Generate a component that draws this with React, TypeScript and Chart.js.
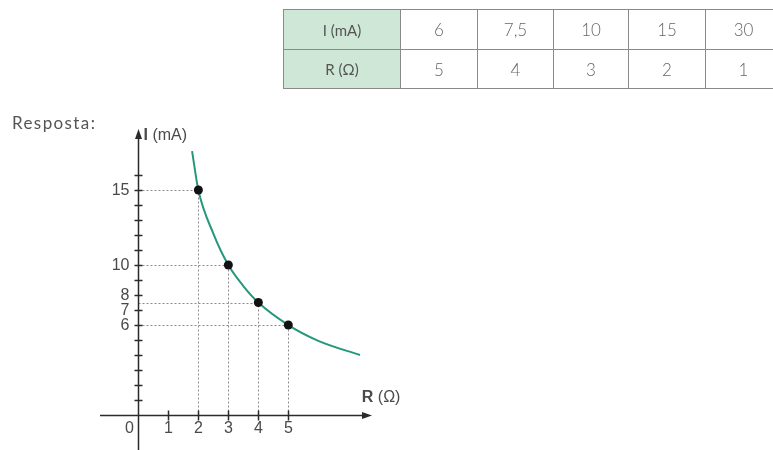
import React, { useEffect, useRef } from "react";
import { Chart, registerables } from "chart.js";

Chart.register(...registerables);

// Measured pairs: current I (mA) against resistance R (Ω)
const tableI = [6, 7.5, 10, 15, 30];
const tableR = [5, 4, 3, 2, 1];
const tableILabels = ["6", "7,5", "10", "15", "30"];
const tableRLabels = ["5", "4", "3", "2", "1"];

// Points along the drawn hyperbola I = k / R
const curveR = [1.79, 2, 2.5, 3, 3.5, 4, 5, 6, 7.39];
const curveI = [17.6, 15, 12.1, 10, 8.6, 7.5, 6, 4.95, 4.0];

// Axis ticks
const yTickValues = [1, 2, 3, 4, 5, 6, 7, 8, 9, 10, 11, 12, 13, 14, 15, 16];
const yTickLabels = [6, 7, 8, 10, 15];
const xTickValues = [1, 2, 3, 4, 5];

const AXIS_COLOR = "#2b2b2b";
const LABEL_COLOR = "#4a4a4a";
const LABEL_FONT = "16px 'Liberation Sans', Arial, sans-serif";
const BOLD_FONT = "bold 16px 'Liberation Sans', Arial, sans-serif";

const crossAxesPlugin = {
  id: "crossAxes",
  beforeDatasetsDraw(chart: any) {
    const { ctx, chartArea } = chart;
    const x = chart.scales.x;
    const y = chart.scales.y;
    const x0 = Math.round(x.getPixelForValue(0)) + 0.5;
    const y0 = Math.round(y.getPixelForValue(0)) + 0.5;

    ctx.save();

    // dotted guides from each visible point to both axes
    ctx.strokeStyle = "#8a8a8a";
    ctx.lineWidth = 1;
    ctx.setLineDash([2, 2]);
    tableR.forEach((r, i) => {
      const v = tableI[i];
      if (v > y.max) return;
      const px = Math.round(x.getPixelForValue(r)) + 0.5;
      const py = Math.round(y.getPixelForValue(v)) + 0.5;
      ctx.beginPath();
      ctx.moveTo(px, y0);
      ctx.lineTo(px, py);
      ctx.moveTo(x0, py);
      ctx.lineTo(px, py);
      ctx.stroke();
    });
    ctx.setLineDash([]);

    // axis lines
    ctx.strokeStyle = AXIS_COLOR;
    ctx.fillStyle = AXIS_COLOR;
    ctx.lineWidth = 1.5;
    const xEnd = chartArea.right;
    const yTop = chartArea.top;
    ctx.beginPath();
    ctx.moveTo(chartArea.left, y0);
    ctx.lineTo(xEnd - 6, y0);
    ctx.moveTo(x0, chartArea.bottom);
    ctx.lineTo(x0, yTop + 6);
    ctx.stroke();

    // arrow heads
    ctx.beginPath();
    ctx.moveTo(xEnd, y0);
    ctx.lineTo(xEnd - 10, y0 - 3.5);
    ctx.lineTo(xEnd - 10, y0 + 3.5);
    ctx.closePath();
    ctx.fill();
    ctx.beginPath();
    ctx.moveTo(x0, yTop);
    ctx.lineTo(x0 - 3.5, yTop + 10);
    ctx.lineTo(x0 + 3.5, yTop + 10);
    ctx.closePath();
    ctx.fill();

    // tick marks crossing the axes
    ctx.lineWidth = 1.5;
    ctx.beginPath();
    yTickValues.forEach((v) => {
      const py = Math.round(y.getPixelForValue(v)) + 0.5;
      ctx.moveTo(x0 - 4, py);
      ctx.lineTo(x0 + 4, py);
    });
    xTickValues.forEach((v) => {
      const px = Math.round(x.getPixelForValue(v)) + 0.5;
      ctx.moveTo(px, y0 - 5);
      ctx.lineTo(px, y0 + 5);
    });
    ctx.stroke();

    // tick labels
    ctx.fillStyle = LABEL_COLOR;
    ctx.font = LABEL_FONT;
    ctx.textBaseline = "middle";
    ctx.textAlign = "right";
    yTickLabels.forEach((v) => {
      ctx.fillText(String(v), x0 - 9, y.getPixelForValue(v) + 1);
    });
    ctx.textAlign = "center";
    xTickValues.forEach((v) => {
      ctx.fillText(String(v), x.getPixelForValue(v), y0 + 13);
    });
    ctx.fillText("0", x0 - 9, y0 + 13);

    // axis titles
    ctx.textAlign = "left";
    const iy = yTop + 7;
    ctx.font = BOLD_FONT;
    ctx.fillText("I", x0 + 5, iy);
    let w = ctx.measureText("I ").width;
    ctx.font = LABEL_FONT;
    ctx.fillText("(mA)", x0 + 5 + w, iy);

    const rx = x.getPixelForValue(7.45);
    const ry = y0 - 18;
    ctx.font = BOLD_FONT;
    ctx.fillText("R", rx, ry);
    w = ctx.measureText("R ").width;
    ctx.font = LABEL_FONT;
    ctx.fillText("(Ω)", rx + w, ry);

    ctx.restore();
  },
};

function IRChart() {
  const canvasRef = useRef<HTMLCanvasElement | null>(null);

  useEffect(() => {
    const canvas = canvasRef.current;
    if (!canvas) return;
    const chart = new Chart(canvas, {
      type: "scatter",
      data: {
        datasets: [
          {
            label: "I(R)",
            data: tableR.map((r, i) => ({ x: r, y: tableI[i] })),
            showLine: false,
            pointRadius: 4.5,
            pointHoverRadius: 4.5,
            pointBackgroundColor: "#111111",
            pointBorderColor: "#111111",
            pointBorderWidth: 0,
            order: 0,
          },
          {
            label: "curva",
            data: curveR.map((r, i) => ({ x: r, y: curveI[i] })),
            showLine: true,
            borderColor: "#25977c",
            borderWidth: 2,
            pointRadius: 0,
            cubicInterpolationMode: "monotone",
            order: 1,
          },
        ],
      },
      options: {
        responsive: false,
        animation: false,
        events: [],
        layout: {
          autoPadding: false,
          padding: { left: 100, right: 401, top: 129, bottom: 0 },
        },
        plugins: {
          legend: { display: false },
          tooltip: { enabled: false },
        },
        scales: {
          x: { type: "linear", min: -1.28, max: 7.79, display: false },
          y: { type: "linear", min: -2.33, max: 19.07, display: false },
        },
      },
      plugins: [crossAxesPlugin],
    });
    return () => chart.destroy();
  }, []);

  return (
    <canvas
      ref={canvasRef}
      width={773}
      height={450}
      style={{ position: "absolute", left: 0, top: 0, display: "block" }}
    />
  );
}

const cellStyle: React.CSSProperties = {
  border: "1px solid #8a8a8a",
  textAlign: "center",
  padding: 0,
  color: "#666",
  fontSize: 17,
  fontWeight: 300,
};

const headStyle: React.CSSProperties = {
  ...cellStyle,
  background: "#cfe7d7",
  color: "#555",
  fontSize: 15,
  fontWeight: 400,
};

export default function App() {
  const colWidths = [117, 77, 76, 75, 77, 68];
  return (
    <div
      style={{
        position: "fixed",
        left: 0,
        top: 0,
        width: 773,
        height: 450,
        overflow: "hidden",
        background: "#ffffff",
        fontFamily: "Lato, 'Open Sans', sans-serif",
      }}
    >
      <IRChart />
      <table
        style={{
          position: "absolute",
          left: 283,
          top: 9,
          borderCollapse: "collapse",
          tableLayout: "fixed",
          width: 490,
        }}
      >
        <colgroup>
          {colWidths.map((w, i) => (
            <col key={i} style={{ width: w }} />
          ))}
        </colgroup>
        <tbody>
          <tr style={{ height: 40 }}>
            <td style={headStyle}>I (mA)</td>
            {tableILabels.map((t, i) => (
              <td key={i} style={i === 4 ? { ...cellStyle, paddingLeft: 8 } : cellStyle}>
                {t}
              </td>
            ))}
          </tr>
          <tr style={{ height: 39 }}>
            <td style={headStyle}>R (Ω)</td>
            {tableRLabels.map((t, i) => (
              <td key={i} style={i === 4 ? { ...cellStyle, paddingLeft: 8 } : cellStyle}>
                {t}
              </td>
            ))}
          </tr>
        </tbody>
      </table>
      <div
        style={{
          position: "absolute",
          left: 12,
          top: 112,
          fontSize: 17,
          color: "#555",
          letterSpacing: 1.4,
        }}
      >
        Resposta:
      </div>
    </div>
  );
}
